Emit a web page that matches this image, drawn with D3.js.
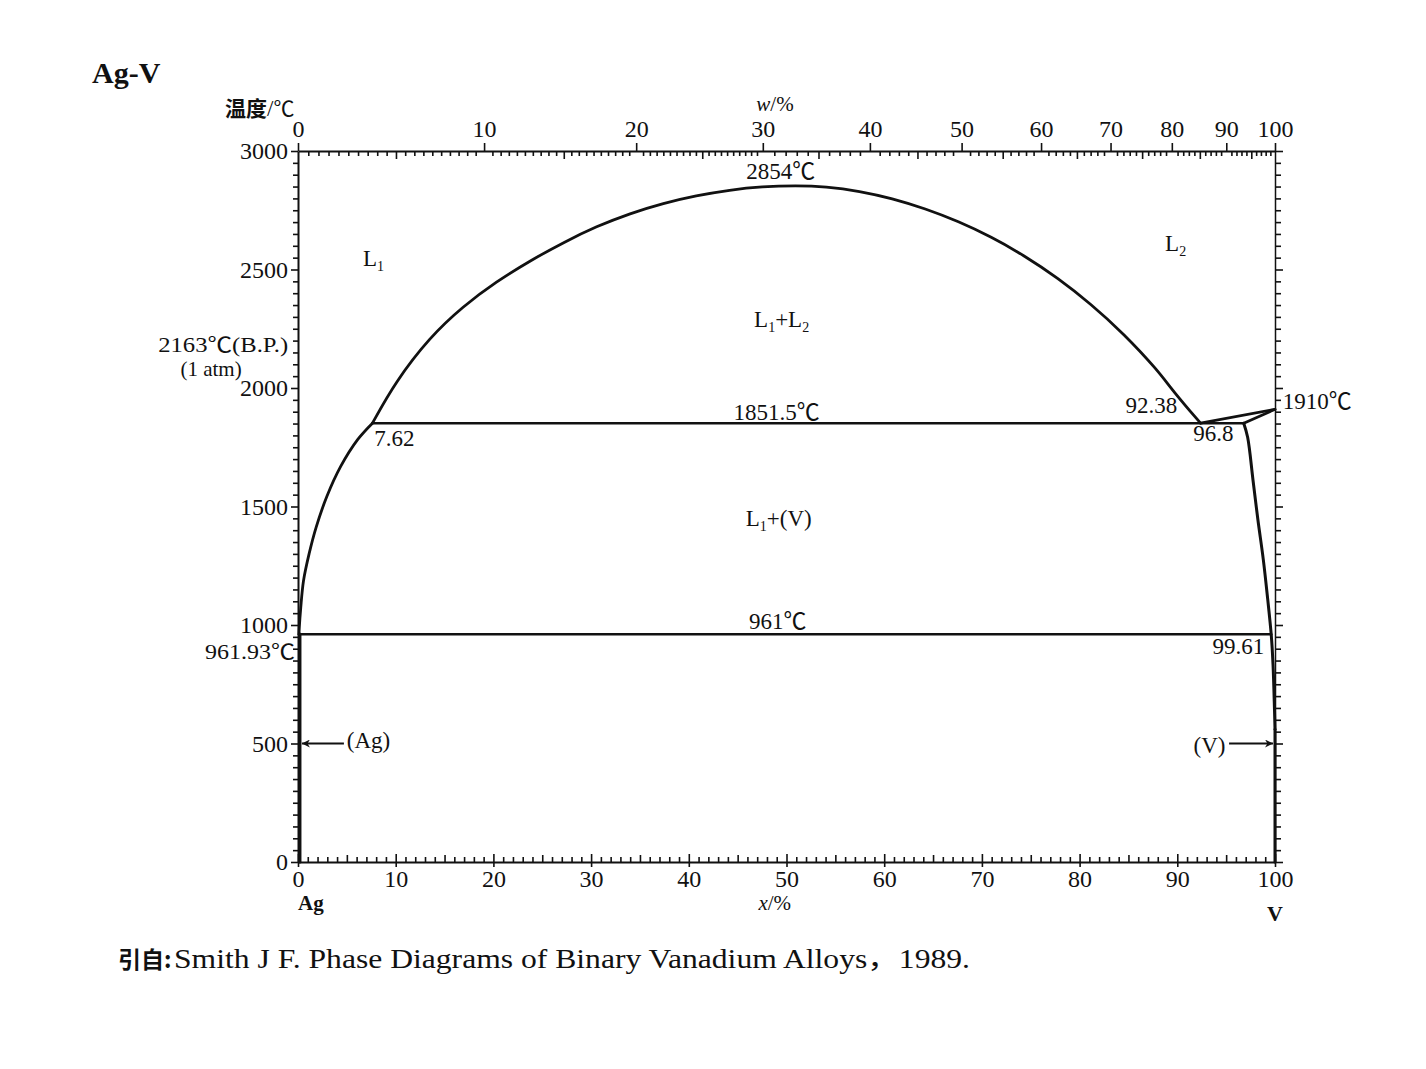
<!DOCTYPE html>
<html><head><meta charset="utf-8">
<script src="https://cdn.jsdelivr.net/npm/d3@7"></script>
<style>body{margin:0;background:#fff}</style>
</head><body>
<svg id="c" width="1426" height="1069" xmlns="http://www.w3.org/2000/svg"></svg>
<script>
// ---------- data ----------
const xMajorTicks = [0,10,20,30,40,50,60,70,80,90,100];          // x / at.% V
const yMajorTicks = [0,500,1000,1500,2000,2500,3000];            // temperature / °C
const wMajorTicks = [0,10,20,30,40,50,60,70,80,90,100];          // w / wt.% V (top axis)
const M_V = 50.9415, M_Ag = 107.8682;                             // molar masses for the wt% -> at% axis

// L1 liquidus (Ag side) from Ag melting point to monotectic point
const liquidusAg = [[0.1,961.93],[0.13,987],[0.28,1072],[0.56,1186],[1.14,1301],[1.87,1414],
  [2.95,1542],[4.37,1669],[6.12,1783],[7.62,1851.5]];
// miscibility gap L1+L2
const miscibilityGap = [[7.62,1851.5],[9.95,2025],[13.5,2215],[16.9,2345],[20.3,2449],[23.8,2538],
  [27.2,2615],[30.55,2682],[34.0,2737],[37.4,2780],[40.75,2812],[44.2,2836],[47.5,2850],[51.0,2854],
  [54.0,2850],[57.5,2831],[60.8,2800],[64.2,2757],[67.6,2703],[70.95,2638],[74.3,2560],[77.75,2465],
  [81.15,2355],[84.5,2230],[88.0,2075],[89.6,1985],[92.38,1851.5]];
// L2 liquidus to V melting point
const liquidusV = [[92.38,1851.5],[100,1910]];
// (V) solidus
const solidusV = [[96.8,1851.5],[100,1910]];
// (V) solvus
const solvusV = [[96.8,1851.5],[97.2,1792],[97.75,1611],[98.25,1444],[98.8,1277],[99.25,1110],
  [99.61,961],[99.8,832],[99.95,638],[100,560],[100,0]];
// (Ag) solvus
const solvusAg = [[0.2,961.93],[0.2,0]];
// invariant lines
const monotectic = [[7.62,1851.5],[96.8,1851.5]];
const eutectic = [[0.1,961],[99.61,961]];

// annotations: text, x(at.%), T(°C), anchor, font size, fitted width (0 = natural)
const annotations = [
  ["2854℃", 49.4, 2882, "middle", 23, 0],
  ["1851.5℃", 49.0, 1866, "middle", 23, 0],
  ["961℃", 49.1, 985, "middle", 23, 0],
  ["7.62", 7.8, 1755, "start", 23, 0],
  ["92.38", 90.0, 1894, "end", 23, 0],
  ["96.8", 93.7, 1776, "middle", 23, 0],
  ["1910℃", 100.8, 1911, "start", 23, 0],
  ["99.61", 98.9, 878, "end", 23, 0],
  ["2163℃(B.P.)", -1.0, 2152, "end", 21, 130],
  ["(1 atm)", -8.9, 2050, "middle", 21, 0],
  ["961.93℃", -0.3, 858, "end", 21, 90],
  ["(Ag)", 5.0, 481, "start", 23, 0],
  ["(V)", 93.3, 460, "middle", 23, 0]
];
// phase labels: main, subscript pieces
const phaseLabels = [
  {parts:[["L",""],["1","sub"]], u:6.65, T:2514, a:"start"},
  {parts:[["L",""],["2","sub"]], u:88.75, T:2578, a:"start"},
  {parts:[["L",""],["1","sub"],["+L",""],["2","sub"]], u:49.5, T:2257, a:"middle"},
  {parts:[["L",""],["1","sub"],["+(V)",""]], u:49.2, T:1418, a:"middle"}
];
const arrows = [[[4.7,500],[0.4,500]], [[95.3,500],[99.8,500]]];

// ---------- layout ----------
const Lp = 298, Rp = 1275, Tp = 151, Bp = 862;
const SERIF = "'Liberation Serif','Times New Roman',serif";
const CJK = "'Noto Sans CJK SC','Noto Sans CJK JP',sans-serif";
const INK = "#111";

const svg = d3.select("#c");
svg.append("rect").attr("width",1426).attr("height",1069).attr("fill","#fff");

const x = d3.scaleLinear().domain([0,100]).range([Lp,Rp]);
const y = d3.scaleLinear().domain([0,3000]).range([Bp,Tp]);
const atFromWt = w => 100*(w/M_V)/(w/M_V + (100-w)/M_Ag);
const wAll = d3.range(0,30,0.5).concat(d3.range(30,101,1));
const xw = d3.scaleLinear().domain(wAll).range(wAll.map(w => x(atFromWt(w))));

function addRich(sel, str){
  const re = /([℃，\u4e00-\u9fff]+)/;
  str.split(re).filter(s=>s.length).forEach(s=>{
    const t = sel.append("tspan").text(s);
    if (re.test(s)) t.attr("font-family", CJK);
  });
}

function styleAxis(g, fs){
  g.attr("font-family", SERIF).attr("font-size", fs);
  g.selectAll("path").attr("stroke", INK).attr("stroke-width", 2);
  g.selectAll("line").attr("stroke", INK).attr("stroke-width", 1.6);
  g.selectAll("text").attr("fill", INK);
}
function minorAxis(gen, transform, values, size){
  const g = svg.append("g").attr("transform", transform)
    .call(gen.tickValues(values).tickSize(size).tickSizeOuter(0).tickFormat(""));
  g.select(".domain").remove();
  styleAxis(g, 10);
  return g;
}
const fmt = d3.format("d");

// bottom axis
const xMinor = d3.range(0,101,1).filter(v=>v%5!==0);
const xMid = d3.range(5,100,10);
minorAxis(d3.axisBottom(x), `translate(0,${Bp})`, xMinor, -5);
minorAxis(d3.axisBottom(x), `translate(0,${Bp})`, xMid, -7);
minorAxis(d3.axisBottom(x), `translate(0,${Bp})`, xMajorTicks, -8);
const gB = svg.append("g").attr("transform",`translate(0,${Bp})`)
  .call(d3.axisBottom(x).tickValues(xMajorTicks).tickSize(5).tickSizeOuter(0).tickPadding(3).tickFormat(fmt));
styleAxis(gB, 24);

// top axis (w / %)
const wMinor = wAll.filter(w => w%5!==0);
const wMid = [5,15,25,35,45,55,65,75,85,95];
minorAxis(d3.axisTop(xw), `translate(0,${Tp})`, wMinor, -5);
minorAxis(d3.axisTop(xw), `translate(0,${Tp})`, wMid, -8);
const gT = svg.append("g").attr("transform",`translate(0,${Tp})`)
  .call(d3.axisTop(xw).tickValues(wMajorTicks).tickSize(8).tickSizeOuter(0).tickPadding(6).tickFormat(fmt));
styleAxis(gT, 24);

// left axis
const yMinor = d3.range(0,3001,50).filter(v=>v%500!==0);
minorAxis(d3.axisLeft(y), `translate(${Lp},0)`, yMinor, 5);
const gL = svg.append("g").attr("transform",`translate(${Lp},0)`)
  .call(d3.axisLeft(y).tickValues(yMajorTicks).tickSize(7).tickSizeOuter(0).tickPadding(3).tickFormat(fmt));
styleAxis(gL, 24);

// right axis
minorAxis(d3.axisRight(y), `translate(${Rp},0)`, yMinor, 6);
const gR = svg.append("g").attr("transform",`translate(${Rp},0)`)
  .call(d3.axisRight(y).tickValues(yMajorTicks).tickSize(8).tickSizeOuter(0).tickFormat(""));
styleAxis(gR, 10);
gR.select(".domain").attr("stroke-width", 1.5);

// ---------- curves ----------
const smooth = d3.line().x(d=>x(d[0])).y(d=>y(d[1])).curve(d3.curveCatmullRom.alpha(0.5));
const soft = d3.line().x(d=>x(d[0])).y(d=>y(d[1])).curve(d3.curveBasis);
const straight = d3.line().x(d=>x(d[0])).y(d=>y(d[1]));
const curves = svg.append("g").attr("fill","none").attr("stroke",INK)
  .attr("stroke-width",2.8).attr("stroke-linejoin","round").attr("stroke-linecap","round");
curves.append("path").attr("d", smooth(liquidusAg));
curves.append("path").attr("d", soft(miscibilityGap));
curves.append("path").attr("d", straight(liquidusV));
curves.append("path").attr("d", straight(solidusV));
curves.append("path").attr("d", smooth(solvusV.slice(0,-1))).attr("stroke-width",3);
curves.append("path").attr("d", straight(solvusV.slice(-2))).attr("stroke-width",3);
curves.append("path").attr("d", straight(solvusAg)).attr("stroke-width",3);
curves.append("path").attr("d", straight(monotectic)).attr("stroke-width",2.5);
curves.append("path").attr("d", straight(eutectic)).attr("stroke-width",2.5);

// arrows
svg.append("defs").append("marker").attr("id","ah").attr("viewBox","0 0 10 10")
  .attr("refX",10).attr("refY",5).attr("markerWidth",12).attr("markerHeight",8)
  .attr("markerUnits","userSpaceOnUse").attr("orient","auto")
  .append("path").attr("d","M0,0 L10,5 L0,10 L3,5 Z").attr("fill",INK);
arrows.forEach(a=>{
  svg.append("line").attr("x1",x(a[0][0])).attr("y1",y(a[0][1]))
    .attr("x2",x(a[1][0])).attr("y2",y(a[1][1]))
    .attr("stroke",INK).attr("stroke-width",2).attr("marker-end","url(#ah)");
});

// ---------- texts ----------
const txt = svg.append("g").attr("font-family",SERIF).attr("fill",INK);
annotations.forEach(([s,u,T,a,fs,w])=>{
  const t = txt.append("text").attr("x",x(u)).attr("y",y(T)).attr("text-anchor",a).attr("font-size",fs);
  if (w) t.attr("textLength",w).attr("lengthAdjust","spacingAndGlyphs");
  addRich(t, s);
});
phaseLabels.forEach(p=>{
  const t = txt.append("text").attr("x",x(p.u)).attr("y",y(p.T)).attr("text-anchor",p.a).attr("font-size",23);
  p.parts.forEach(([s,k])=>{
    const sp = t.append("tspan").text(s);
    if (k==="sub") sp.attr("font-size",14).attr("dy",5);
    else if (t.selectAll("tspan").size()>1) sp.attr("dy",-5);
  });
});

// axis titles & labels
svg.append("text").attr("x",92).attr("y",83).attr("font-family",SERIF).attr("font-weight","bold")
  .attr("font-size",30).attr("fill",INK).text("Ag-V");
const yt = svg.append("text").attr("x",225).attr("y",116).attr("font-family",CJK)
  .attr("font-weight","bold").attr("font-size",21).attr("fill",INK);
yt.append("tspan").text("温度");
yt.append("tspan").attr("font-family",SERIF).attr("font-weight","normal").attr("font-size",23).text("/");
yt.append("tspan").attr("font-weight","normal").text("℃");

const wt = svg.append("text").attr("x",775).attr("y",111).attr("text-anchor","middle")
  .attr("font-family",SERIF).attr("font-size",21).attr("fill",INK);
wt.append("tspan").attr("font-style","italic").text("w");
wt.append("tspan").text("/%");

const xt = svg.append("text").attr("x",x(48.8)).attr("y",910).attr("text-anchor","middle")
  .attr("font-family",SERIF).attr("font-size",21).attr("fill",INK);
xt.append("tspan").attr("font-style","italic").text("x");
xt.append("tspan").text("/%");

svg.append("text").attr("x",x(0)).attr("y",910).attr("font-family",SERIF).attr("font-weight","bold")
  .attr("font-size",21).attr("fill",INK).text("Ag");
svg.append("text").attr("x",x(100)).attr("y",921).attr("text-anchor","middle").attr("font-family",SERIF)
  .attr("font-weight","bold").attr("font-size",22).attr("fill",INK).text("V");

// source caption
svg.append("text").attr("x",118).attr("y",968).attr("font-family",CJK).attr("font-weight","bold")
  .attr("font-size",23).attr("fill",INK).text("引自:");
const cap = svg.append("text").attr("x",174).attr("y",968).attr("font-family",SERIF)
  .attr("font-size",27).attr("fill",INK).attr("textLength",796).attr("lengthAdjust","spacingAndGlyphs");
addRich(cap, "Smith J F.  Phase Diagrams of Binary Vanadium Alloys，1989.");
</script>
</body></html>
